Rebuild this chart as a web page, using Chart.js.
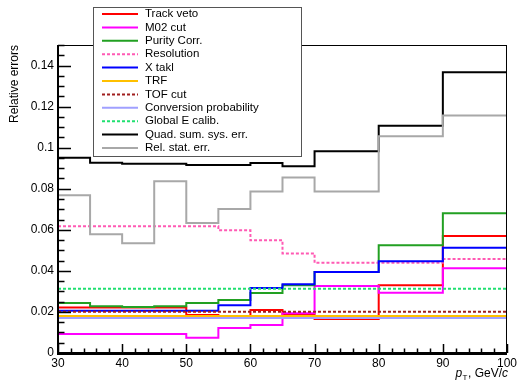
<!DOCTYPE html>
<html>
<head>
<meta charset="utf-8">
<script src="https://cdn.jsdelivr.net/npm/chart.js@4.4.1/dist/chart.umd.min.js"></script>
<style>
  html, body { margin: 0; padding: 0; background: #fff; }
  #wrap { width: 520px; height: 382px; }
</style>
</head>
<body>
<div id="wrap"><canvas id="c" width="520" height="382"></canvas></div>
<script>
// bin edges (pT, GeV/c)
const binEdges = [30, 35, 40, 45, 50, 55, 60, 65, 70, 80, 90, 100];

// relative errors per bin
const trackVeto  = [0.0221, 0.0221, 0.0221, 0.0221, 0.0185, 0.0180, 0.0209, 0.0190, 0.0165, 0.0330, 0.0570];
const m02Cut     = [0.0092, 0.0092, 0.0092, 0.0092, 0.0074, 0.0122, 0.0136, 0.0194, 0.0326, 0.0293, 0.0413];
const purityCorr = [0.0244, 0.0228, 0.0224, 0.0228, 0.0243, 0.0258, 0.0292, 0.0330, 0.0395, 0.0525, 0.0680];
const resolution = [0.0617, 0.0617, 0.0617, 0.0617, 0.0617, 0.0598, 0.0549, 0.0485, 0.0439, 0.0439, 0.0458];
const xTakl      = [0.0206, 0.0206, 0.0206, 0.0206, 0.0206, 0.0233, 0.0317, 0.0335, 0.0394, 0.0447, 0.0512];
const trf        = [0.0180, 0.0180, 0.0180, 0.0180, 0.0180, 0.0180, 0.0180, 0.0180, 0.0180, 0.0180, 0.0180];
const tofCut     = [0.0201, 0.0201, 0.0201, 0.0201, 0.0201, 0.0201, 0.0201, 0.0201, 0.0201, 0.0201, 0.0201];
const convProb   = [0.0170, 0.0170, 0.0170, 0.0170, 0.0170, 0.0170, 0.0170, 0.0170, 0.0170, 0.0170, 0.0170];
const globalE    = [0.0313, 0.0313, 0.0313, 0.0313, 0.0313, 0.0313, 0.0313, 0.0313, 0.0313, 0.0313, 0.0313];
const quadSum    = [0.0951, 0.0927, 0.0922, 0.0922, 0.0915, 0.0915, 0.0925, 0.0909, 0.0982, 0.1107, 0.1367];
const relStat    = [0.0768, 0.0578, 0.0535, 0.0836, 0.0633, 0.0701, 0.0787, 0.0855, 0.0787, 0.1055, 0.1157];

const yTickValues = [0, 0.02, 0.04, 0.06, 0.08, 0.1, 0.12, 0.14];
const xTickValues = [30, 40, 50, 60, 70, 80, 90, 100];

const FONT = '"Liberation Sans", Arial, Helvetica, sans-serif';

// histogram -> step points (left edges + closing point at last edge)
function hist(vals) {
  return binEdges.map((x, i) => ({ x: x, y: vals[Math.min(i, vals.length - 1)] }));
}

const series = [
  { label: 'Track veto', data: trackVeto, color: '#ff0000' },
  { label: 'M02 cut', data: m02Cut, color: '#ff00ff' },
  { label: 'Purity Corr.', data: purityCorr, color: '#22a022' },
  { label: 'Resolution', data: resolution, color: '#ff5ab4', dash: [3, 2] },
  { label: 'X takl', data: xTakl, color: '#0000ff' },
  { label: 'TRF', data: trf, color: '#ffc000' },
  { label: 'TOF cut', data: tofCut, color: '#a01e1e', dash: [3, 2] },
  { label: 'Conversion probability', data: convProb, color: '#a0a0ff' },
  { label: 'Global E calib.', data: globalE, color: '#20e070', dash: [3, 2] },
  { label: 'Quad. sum. sys. err.', data: quadSum, color: '#000000' },
  { label: 'Rel. stat. err.', data: relStat, color: '#a8a8a8' }
];

const datasets = series.map((s, i) => ({
  label: s.label,
  data: hist(s.data),
  borderColor: s.color,
  backgroundColor: s.color,
  borderWidth: 2,
  borderDash: s.dash || [],
  stepped: 'before',
  pointRadius: 0,
  fill: false,
  order: series.length - i
}));

// frame, inner ticks, titles, legend box
const rootStyle = {
  id: 'rootStyle',
  afterDatasetsDraw(chart) {
    const { ctx, chartArea: a, scales } = chart;
    const xs = scales.x, ys = scales.y;
    ctx.save();
    ctx.strokeStyle = '#000';
    // frame
    ctx.lineWidth = 1;
    ctx.strokeRect(a.left + 0.5, a.top + 0.5, a.right - a.left - 1, a.bottom - a.top - 1);
    ctx.lineWidth = 2;
    ctx.beginPath();
    ctx.moveTo(a.left, a.top); ctx.lineTo(a.left, a.bottom + 1);
    ctx.lineTo(a.right, a.bottom + 1);
    ctx.stroke();
    // y ticks
    ctx.lineWidth = 1.5;
    ctx.beginPath();
    for (let k = 0; k <= 30; k++) {
      const v = k * 0.005;
      const py = Math.round(ys.getPixelForValue(v)) + 0.5;
      const len = (k % 4 === 0) ? 13 : 6.5;
      ctx.moveTo(a.left, py); ctx.lineTo(a.left + len, py);
    }
    // x ticks
    for (let v = 30; v <= 100; v += 2) {
      const px = Math.round(xs.getPixelForValue(v)) + 0.5;
      const len = (v % 10 === 0) ? 9 : 4.5;
      ctx.moveTo(px, a.bottom); ctx.lineTo(px, a.bottom - len);
    }
    ctx.stroke();

    // axis titles
    ctx.fillStyle = '#000';
    ctx.font = '12px ' + FONT;
    ctx.save();
    ctx.translate(18, a.top);
    ctx.rotate(-Math.PI / 2);
    ctx.textAlign = 'right';
    ctx.textBaseline = 'alphabetic';
    ctx.fillText('Relative errors', 0, 0);
    ctx.restore();

    // p_T, GeV/c (right aligned at frame edge)
    const baseY = 377;
    ctx.textBaseline = 'alphabetic';
    ctx.textAlign = 'left';
    const italic = 'italic 12px ' + FONT;
    const normal = '12px ' + FONT;
    const sub = '8px ' + FONT;
    ctx.font = italic; const wp = ctx.measureText('p').width;
    ctx.font = sub; const wt = ctx.measureText('T').width;
    ctx.font = normal; const wm = ctx.measureText(', GeV/').width;
    ctx.font = italic; const wc = ctx.measureText('c').width;
    let x0 = a.right + 1 - (wp + wt + 1 + wm + wc);
    ctx.font = italic; ctx.fillText('p', x0, baseY); x0 += wp + 0.5;
    ctx.font = sub; ctx.fillText('T', x0, baseY + 3); x0 += wt + 0.5;
    ctx.font = normal; ctx.fillText(', GeV/', x0, baseY); x0 += wm;
    ctx.font = italic; ctx.fillText('c', x0, baseY);

    // legend
    const lx = 93, ly = 7, lw = 208, lh = 149;
    ctx.fillStyle = '#fff';
    ctx.fillRect(lx, ly, lw, lh);
    ctx.strokeStyle = '#555';
    ctx.lineWidth = 1;
    ctx.strokeRect(lx + 0.5, ly + 0.5, lw, lh);
    ctx.font = '11.5px ' + FONT;
    ctx.textBaseline = 'middle';
    chart.data.datasets.forEach((d, i) => {
      const cy = 14 + i * 13.4;
      ctx.strokeStyle = d.borderColor;
      ctx.lineWidth = 2;
      ctx.setLineDash(d.borderDash || []);
      ctx.beginPath();
      ctx.moveTo(102, cy); ctx.lineTo(138, cy);
      ctx.stroke();
      ctx.setLineDash([]);
      ctx.fillStyle = '#000';
      ctx.fillText(d.label, 145, cy);
    });
    ctx.restore();
  }
};

new Chart(document.getElementById('c'), {
  type: 'line',
  data: { datasets: datasets },
  plugins: [rootStyle],
  options: {
    responsive: false,
    maintainAspectRatio: false,
    animation: false,
    layout: { padding: { left: 0, top: 45, right: 9, bottom: 0 } },
    plugins: { legend: { display: false }, tooltip: { enabled: false } },
    scales: {
      x: {
        type: 'linear',
        min: 30, max: 100,
        grid: { display: false, drawTicks: false },
        border: { display: false },
        afterBuildTicks: s => { s.ticks = xTickValues.map(v => ({ value: v })); },
        afterFit: s => { s.height = 29; },
        ticks: { color: '#000', padding: 3, maxRotation: 0, font: { family: FONT, size: 12 } }
      },
      y: {
        min: 0, max: 0.15,
        grid: { display: false, drawTicks: false },
        border: { display: false },
        afterBuildTicks: s => { s.ticks = yTickValues.map(v => ({ value: v })); },
        afterFit: s => { s.width = 58; },
        ticks: {
          color: '#000', padding: 4, font: { family: FONT, size: 12 },
          callback: v => String(parseFloat(Number(v).toFixed(3)))
        }
      }
    }
  }
});
</script>
</body>
</html>
